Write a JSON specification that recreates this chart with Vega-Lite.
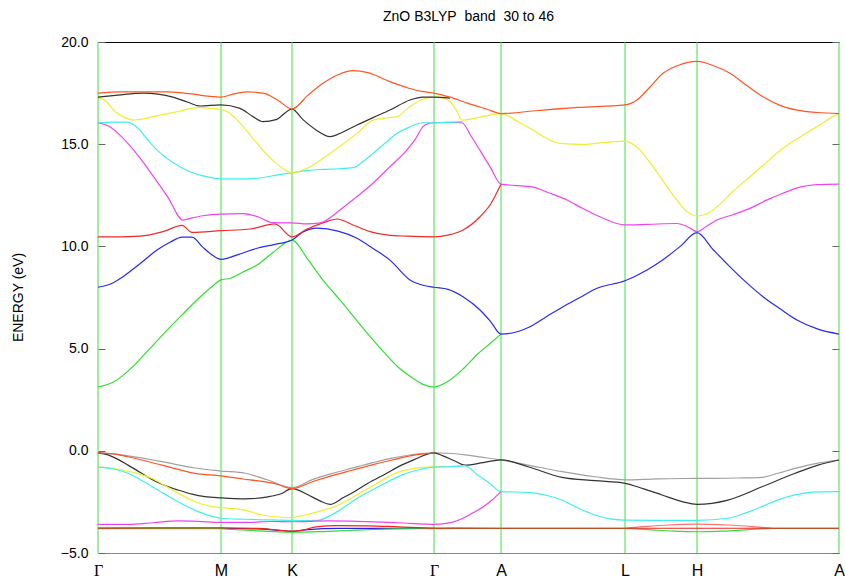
{
  "$schema": "https://vega.github.io/schema/vega-lite/v6.json",
  "autosize": {"type": "none"},
  "padding": {"left": 98, "top": 42, "right": 6, "bottom": 24},
  "width": 741,
  "height": 511,
  "background": "white",
  "title": {"text": "ZnO B3LYP\u00a0 band\u00a0 30 to 46", "font": "Liberation Sans", "fontSize": 14, "fontWeight": "normal", "color": "#000", "offset": 0, "baseline": "alphabetic", "anchor": "middle"},
  "config": {"view": {"stroke": null}, "axis": {"grid": false, "labelFont": "Liberation Sans", "titleFont": "Liberation Sans", "labelColor": "#000", "titleColor": "#000"}},
  "datasets": {
    "kpts": [{"k": 0}, {"k": 123}, {"k": 194}, {"k": 336}, {"k": 403}, {"k": 527}, {"k": 599}, {"k": 741}],
    "val": [
      {"b":"v_gray","k":0,"e":-0.1},{"b":"v_gray","k":15,"e":-0.15},{"b":"v_gray","k":30,"e":-0.25},{"b":"v_gray","k":64,"e":-0.53},{"b":"v_gray","k":97,"e":-0.84},{"b":"v_gray","k":123,"e":-0.99},{"b":"v_gray","k":147,"e":-1.1},{"b":"v_gray","k":170,"e":-1.43},{"b":"v_gray","k":194,"e":-1.8},{"b":"v_gray","k":215,"e":-1.4},{"b":"v_gray","k":235,"e":-1.1},{"b":"v_gray","k":254,"e":-0.85},{"b":"v_gray","k":275,"e":-0.58},{"b":"v_gray","k":294,"e":-0.36},{"b":"v_gray","k":315,"e":-0.18},{"b":"v_gray","k":336,"e":-0.1},{"b":"v_gray","k":350,"e":-0.12},{"b":"v_gray","k":367,"e":-0.2},{"b":"v_gray","k":385,"e":-0.32},{"b":"v_gray","k":403,"e":-0.45},{"b":"v_gray","k":430,"e":-0.7},{"b":"v_gray","k":464,"e":-1.02},{"b":"v_gray","k":497,"e":-1.27},{"b":"v_gray","k":527,"e":-1.42},{"b":"v_gray","k":560,"e":-1.37},{"b":"v_gray","k":599,"e":-1.35},{"b":"v_gray","k":640,"e":-1.33},{"b":"v_gray","k":664,"e":-1.3},{"b":"v_gray","k":680,"e":-1.1},{"b":"v_gray","k":697,"e":-0.86},{"b":"v_gray","k":720,"e":-0.6},{"b":"v_gray","k":741,"e":-0.45},
      {"b":"v_black","k":0,"e":-0.1},{"b":"v_black","k":10,"e":-0.2},{"b":"v_black","k":20,"e":-0.42},{"b":"v_black","k":30,"e":-0.7},{"b":"v_black","k":42,"e":-1.05},{"b":"v_black","k":54,"e":-1.4},{"b":"v_black","k":67,"e":-1.7},{"b":"v_black","k":80,"e":-1.92},{"b":"v_black","k":94,"e":-2.12},{"b":"v_black","k":107,"e":-2.24},{"b":"v_black","k":123,"e":-2.3},{"b":"v_black","k":147,"e":-2.35},{"b":"v_black","k":170,"e":-2.25},{"b":"v_black","k":183,"e":-2.1},{"b":"v_black","k":194,"e":-1.85},{"b":"v_black","k":210,"e":-2.15},{"b":"v_black","k":222,"e":-2.45},{"b":"v_black","k":232,"e":-2.62},{"b":"v_black","k":245,"e":-2.3},{"b":"v_black","k":258,"e":-1.95},{"b":"v_black","k":270,"e":-1.59},{"b":"v_black","k":287,"e":-1.15},{"b":"v_black","k":304,"e":-0.69},{"b":"v_black","k":320,"e":-0.35},{"b":"v_black","k":330,"e":-0.15},{"b":"v_black","k":336,"e":-0.1},{"b":"v_black","k":345,"e":-0.25},{"b":"v_black","k":357,"e":-0.5},{"b":"v_black","k":367,"e":-0.7},{"b":"v_black","k":385,"e":-0.58},{"b":"v_black","k":403,"e":-0.44},{"b":"v_black","k":430,"e":-0.78},{"b":"v_black","k":464,"e":-1.3},{"b":"v_black","k":497,"e":-1.46},{"b":"v_black","k":527,"e":-1.59},{"b":"v_black","k":545,"e":-1.85},{"b":"v_black","k":564,"e":-2.16},{"b":"v_black","k":585,"e":-2.5},{"b":"v_black","k":599,"e":-2.62},{"b":"v_black","k":630,"e":-2.41},{"b":"v_black","k":664,"e":-1.76},{"b":"v_black","k":697,"e":-1.1},{"b":"v_black","k":720,"e":-0.7},{"b":"v_black","k":741,"e":-0.45},
      {"b":"v_orange","k":0,"e":-0.1},{"b":"v_orange","k":15,"e":-0.15},{"b":"v_orange","k":30,"e":-0.29},{"b":"v_orange","k":64,"e":-0.7},{"b":"v_orange","k":97,"e":-1.1},{"b":"v_orange","k":123,"e":-1.23},{"b":"v_orange","k":145,"e":-1.38},{"b":"v_orange","k":164,"e":-1.5},{"b":"v_orange","k":180,"e":-1.65},{"b":"v_orange","k":194,"e":-1.85},{"b":"v_orange","k":215,"e":-1.5},{"b":"v_orange","k":235,"e":-1.2},{"b":"v_orange","k":254,"e":-0.95},{"b":"v_orange","k":275,"e":-0.68},{"b":"v_orange","k":294,"e":-0.45},{"b":"v_orange","k":315,"e":-0.22},{"b":"v_orange","k":336,"e":-0.1},
      {"b":"v_yellow","k":0,"e":-0.8},{"b":"v_yellow","k":15,"e":-0.86},{"b":"v_yellow","k":30,"e":-1.0},{"b":"v_yellow","k":42,"e":-1.15},{"b":"v_yellow","k":54,"e":-1.35},{"b":"v_yellow","k":67,"e":-1.7},{"b":"v_yellow","k":80,"e":-2.07},{"b":"v_yellow","k":97,"e":-2.49},{"b":"v_yellow","k":114,"e":-2.73},{"b":"v_yellow","k":123,"e":-2.78},{"b":"v_yellow","k":147,"e":-2.9},{"b":"v_yellow","k":164,"e":-3.14},{"b":"v_yellow","k":180,"e":-3.24},{"b":"v_yellow","k":194,"e":-3.27},{"b":"v_yellow","k":207,"e":-3.14},{"b":"v_yellow","k":222,"e":-2.95},{"b":"v_yellow","k":237,"e":-2.73},{"b":"v_yellow","k":254,"e":-2.3},{"b":"v_yellow","k":270,"e":-1.84},{"b":"v_yellow","k":284,"e":-1.45},{"b":"v_yellow","k":297,"e":-1.1},{"b":"v_yellow","k":312,"e":-0.9},{"b":"v_yellow","k":327,"e":-0.8},{"b":"v_yellow","k":336,"e":-0.78},{"b":"v_yellow","k":355,"e":-0.76},{"b":"v_yellow","k":367,"e":-0.72},
      {"b":"v_cyan","k":0,"e":-0.8},{"b":"v_cyan","k":15,"e":-0.88},{"b":"v_cyan","k":30,"e":-1.1},{"b":"v_cyan","k":42,"e":-1.4},{"b":"v_cyan","k":54,"e":-1.75},{"b":"v_cyan","k":67,"e":-2.12},{"b":"v_cyan","k":80,"e":-2.49},{"b":"v_cyan","k":97,"e":-2.9},{"b":"v_cyan","k":110,"e":-3.15},{"b":"v_cyan","k":123,"e":-3.3},{"b":"v_cyan","k":147,"e":-3.35},{"b":"v_cyan","k":170,"e":-3.38},{"b":"v_cyan","k":194,"e":-3.4},{"b":"v_cyan","k":205,"e":-3.42},{"b":"v_cyan","k":220,"e":-3.4},{"b":"v_cyan","k":233,"e":-3.15},{"b":"v_cyan","k":247,"e":-2.73},{"b":"v_cyan","k":260,"e":-2.3},{"b":"v_cyan","k":273,"e":-1.95},{"b":"v_cyan","k":287,"e":-1.59},{"b":"v_cyan","k":303,"e":-1.2},{"b":"v_cyan","k":320,"e":-0.94},{"b":"v_cyan","k":336,"e":-0.8},{"b":"v_cyan","k":350,"e":-0.78},{"b":"v_cyan","k":367,"e":-0.74},{"b":"v_cyan","k":380,"e":-1.2},{"b":"v_cyan","k":392,"e":-1.6},{"b":"v_cyan","k":403,"e":-2.0},{"b":"v_cyan","k":430,"e":-2.03},{"b":"v_cyan","k":450,"e":-2.2},{"b":"v_cyan","k":464,"e":-2.41},{"b":"v_cyan","k":480,"e":-2.8},{"b":"v_cyan","k":497,"e":-3.14},{"b":"v_cyan","k":512,"e":-3.33},{"b":"v_cyan","k":527,"e":-3.39},{"b":"v_cyan","k":560,"e":-3.4},{"b":"v_cyan","k":599,"e":-3.4},{"b":"v_cyan","k":630,"e":-3.3},{"b":"v_cyan","k":647,"e":-3.05},{"b":"v_cyan","k":664,"e":-2.73},{"b":"v_cyan","k":680,"e":-2.4},{"b":"v_cyan","k":697,"e":-2.16},{"b":"v_cyan","k":715,"e":-2.02},{"b":"v_cyan","k":741,"e":-2.0},
      {"b":"v_magenta","k":0,"e":-3.6},{"b":"v_magenta","k":30,"e":-3.6},{"b":"v_magenta","k":55,"e":-3.52},{"b":"v_magenta","k":80,"e":-3.43},{"b":"v_magenta","k":100,"e":-3.45},{"b":"v_magenta","k":123,"e":-3.5},{"b":"v_magenta","k":150,"e":-3.5},{"b":"v_magenta","k":175,"e":-3.46},{"b":"v_magenta","k":194,"e":-3.47},{"b":"v_magenta","k":230,"e":-3.43},{"b":"v_magenta","k":260,"e":-3.45},{"b":"v_magenta","k":300,"e":-3.52},{"b":"v_magenta","k":336,"e":-3.6},{"b":"v_magenta","k":354,"e":-3.5},{"b":"v_magenta","k":365,"e":-3.3},{"b":"v_magenta","k":374,"e":-3.06},{"b":"v_magenta","k":385,"e":-2.75},{"b":"v_magenta","k":394,"e":-2.41},{"b":"v_magenta","k":403,"e":-2.0},
      {"b":"v_blue","k":0,"e":-3.8},{"b":"v_blue","k":60,"e":-3.8},{"b":"v_blue","k":123,"e":-3.8},{"b":"v_blue","k":160,"e":-3.82},{"b":"v_blue","k":178,"e":-3.88},{"b":"v_blue","k":194,"e":-3.94},{"b":"v_blue","k":210,"e":-3.86},{"b":"v_blue","k":240,"e":-3.8},{"b":"v_blue","k":290,"e":-3.8},{"b":"v_blue","k":336,"e":-3.8},
      {"b":"v_green","k":0,"e":-3.81},{"b":"v_green","k":123,"e":-3.81},{"b":"v_green","k":135,"e":-3.85},{"b":"v_green","k":155,"e":-3.9},{"b":"v_green","k":175,"e":-3.95},{"b":"v_green","k":200,"e":-3.98},{"b":"v_green","k":225,"e":-3.95},{"b":"v_green","k":250,"e":-3.9},{"b":"v_green","k":275,"e":-3.85},{"b":"v_green","k":300,"e":-3.82},{"b":"v_green","k":336,"e":-3.81},{"b":"v_green","k":355,"e":-3.8},{"b":"v_green","k":527,"e":-3.8},{"b":"v_green","k":550,"e":-3.86},{"b":"v_green","k":575,"e":-3.93},{"b":"v_green","k":599,"e":-3.96},{"b":"v_green","k":625,"e":-3.93},{"b":"v_green","k":650,"e":-3.86},{"b":"v_green","k":674,"e":-3.8},{"b":"v_green","k":741,"e":-3.8},
      {"b":"v_salmon","k":527,"e":-3.79},{"b":"v_salmon","k":545,"e":-3.71},{"b":"v_salmon","k":570,"e":-3.63},{"b":"v_salmon","k":599,"e":-3.59},{"b":"v_salmon","k":630,"e":-3.63},{"b":"v_salmon","k":655,"e":-3.71},{"b":"v_salmon","k":674,"e":-3.79}
    ],
    "valtop": [
      {"b":"v_red","k":0,"e":-3.78},{"b":"v_red","k":60,"e":-3.77},{"b":"v_red","k":123,"e":-3.77},{"b":"v_red","k":160,"e":-3.8},{"b":"v_red","k":180,"e":-3.88},{"b":"v_red","k":194,"e":-3.93},{"b":"v_red","k":205,"e":-3.88},{"b":"v_red","k":218,"e":-3.72},{"b":"v_red","k":240,"e":-3.66},{"b":"v_red","k":270,"e":-3.67},{"b":"v_red","k":300,"e":-3.72},{"b":"v_red","k":336,"e":-3.78},{"b":"v_red","k":403,"e":-3.79},{"b":"v_red","k":527,"e":-3.79},{"b":"v_red","k":741,"e":-3.79}
    ],
    "cond": [
      {"b":"c_green","k":0,"e":3.12},{"b":"c_green","k":15,"e":3.35},{"b":"c_green","k":30,"e":3.9},{"b":"c_green","k":50,"e":4.9},{"b":"c_green","k":70,"e":5.95},{"b":"c_green","k":85,"e":6.7},{"b":"c_green","k":99,"e":7.38},{"b":"c_green","k":112,"e":7.95},{"b":"c_green","k":123,"e":8.36},{"b":"c_green","k":132,"e":8.44},{"b":"c_green","k":145,"e":8.75},{"b":"c_green","k":159,"e":9.09},{"b":"c_green","k":175,"e":9.7},{"b":"c_green","k":194,"e":10.31},{"b":"c_green","k":210,"e":9.35},{"b":"c_green","k":225,"e":8.35},{"b":"c_green","k":242,"e":7.38},{"b":"c_green","k":260,"e":6.3},{"b":"c_green","k":280,"e":5.15},{"b":"c_green","k":300,"e":4.1},{"b":"c_green","k":315,"e":3.55},{"b":"c_green","k":325,"e":3.25},{"b":"c_green","k":336,"e":3.12},{"b":"c_green","k":350,"e":3.4},{"b":"c_green","k":365,"e":4.0},{"b":"c_green","k":380,"e":4.75},{"b":"c_green","k":392,"e":5.25},{"b":"c_green","k":403,"e":5.71},
      {"b":"c_blue","k":0,"e":8.0},{"b":"c_blue","k":12,"e":8.15},{"b":"c_blue","k":25,"e":8.52},{"b":"c_blue","k":42,"e":9.15},{"b":"c_blue","k":59,"e":9.82},{"b":"c_blue","k":72,"e":10.2},{"b":"c_blue","k":84,"e":10.45},{"b":"c_blue","k":94,"e":10.45},{"b":"c_blue","k":105,"e":9.95},{"b":"c_blue","k":115,"e":9.55},{"b":"c_blue","k":123,"e":9.37},{"b":"c_blue","k":140,"e":9.6},{"b":"c_blue","k":159,"e":9.91},{"b":"c_blue","k":177,"e":10.1},{"b":"c_blue","k":194,"e":10.31},{"b":"c_blue","k":205,"e":10.7},{"b":"c_blue","k":219,"e":10.89},{"b":"c_blue","k":240,"e":10.75},{"b":"c_blue","k":259,"e":10.4},{"b":"c_blue","k":275,"e":9.9},{"b":"c_blue","k":292,"e":9.33},{"b":"c_blue","k":312,"e":8.36},{"b":"c_blue","k":325,"e":8.1},{"b":"c_blue","k":336,"e":8.0},{"b":"c_blue","k":350,"e":7.9},{"b":"c_blue","k":365,"e":7.54},{"b":"c_blue","k":382,"e":6.89},{"b":"c_blue","k":393,"e":6.3},{"b":"c_blue","k":403,"e":5.71},{"b":"c_blue","k":432,"e":6.07},{"b":"c_blue","k":448,"e":6.55},{"b":"c_blue","k":465,"e":7.05},{"b":"c_blue","k":482,"e":7.5},{"b":"c_blue","k":499,"e":7.95},{"b":"c_blue","k":527,"e":8.32},{"b":"c_blue","k":549,"e":8.85},{"b":"c_blue","k":565,"e":9.35},{"b":"c_blue","k":582,"e":9.99},{"b":"c_blue","k":599,"e":10.67},{"b":"c_blue","k":615,"e":9.85},{"b":"c_blue","k":632,"e":9.0},{"b":"c_blue","k":648,"e":8.25},{"b":"c_blue","k":665,"e":7.54},{"b":"c_blue","k":682,"e":6.95},{"b":"c_blue","k":699,"e":6.4},{"b":"c_blue","k":720,"e":5.95},{"b":"c_blue","k":741,"e":5.71},
      {"b":"c_red","k":0,"e":10.47},{"b":"c_red","k":20,"e":10.47},{"b":"c_red","k":42,"e":10.5},{"b":"c_red","k":65,"e":10.72},{"b":"c_red","k":84,"e":11.03},{"b":"c_red","k":94,"e":10.69},{"b":"c_red","k":123,"e":10.77},{"b":"c_red","k":152,"e":10.85},{"b":"c_red","k":177,"e":11.1},{"b":"c_red","k":194,"e":10.47},{"b":"c_red","k":209,"e":10.85},{"b":"c_red","k":225,"e":11.15},{"b":"c_red","k":239,"e":11.34},{"b":"c_red","k":255,"e":11.05},{"b":"c_red","k":272,"e":10.72},{"b":"c_red","k":290,"e":10.55},{"b":"c_red","k":309,"e":10.5},{"b":"c_red","k":336,"e":10.47},{"b":"c_red","k":350,"e":10.55},{"b":"c_red","k":365,"e":10.8},{"b":"c_red","k":382,"e":11.45},{"b":"c_red","k":393,"e":12.1},{"b":"c_red","k":403,"e":13.05},
      {"b":"c_magenta","k":0,"e":16.05},{"b":"c_magenta","k":10,"e":15.9},{"b":"c_magenta","k":25,"e":15.3},{"b":"c_magenta","k":40,"e":14.45},{"b":"c_magenta","k":55,"e":13.45},{"b":"c_magenta","k":70,"e":12.4},{"b":"c_magenta","k":85,"e":11.29},{"b":"c_magenta","k":92,"e":11.37},{"b":"c_magenta","k":105,"e":11.5},{"b":"c_magenta","k":123,"e":11.58},{"b":"c_magenta","k":145,"e":11.6},{"b":"c_magenta","k":160,"e":11.45},{"b":"c_magenta","k":175,"e":11.16},{"b":"c_magenta","k":194,"e":11.15},{"b":"c_magenta","k":209,"e":11.1},{"b":"c_magenta","k":222,"e":11.15},{"b":"c_magenta","k":242,"e":11.78},{"b":"c_magenta","k":258,"e":12.4},{"b":"c_magenta","k":275,"e":13.09},{"b":"c_magenta","k":292,"e":13.9},{"b":"c_magenta","k":309,"e":14.72},{"b":"c_magenta","k":318,"e":15.3},{"b":"c_magenta","k":325,"e":15.86},{"b":"c_magenta","k":330,"e":16.0},{"b":"c_magenta","k":336,"e":16.05},{"b":"c_magenta","k":350,"e":16.07},{"b":"c_magenta","k":364,"e":16.05},{"b":"c_magenta","k":373,"e":15.4},{"b":"c_magenta","k":382,"e":14.7},{"b":"c_magenta","k":392,"e":13.9},{"b":"c_magenta","k":403,"e":13.05},{"b":"c_magenta","k":435,"e":12.9},{"b":"c_magenta","k":452,"e":12.6},{"b":"c_magenta","k":469,"e":12.27},{"b":"c_magenta","k":485,"e":11.85},{"b":"c_magenta","k":502,"e":11.45},{"b":"c_magenta","k":527,"e":11.05},{"b":"c_magenta","k":550,"e":11.08},{"b":"c_magenta","k":579,"e":11.12},{"b":"c_magenta","k":590,"e":10.95},{"b":"c_magenta","k":599,"e":10.72},{"b":"c_magenta","k":609,"e":11.0},{"b":"c_magenta","k":619,"e":11.29},{"b":"c_magenta","k":635,"e":11.55},{"b":"c_magenta","k":652,"e":11.86},{"b":"c_magenta","k":668,"e":12.25},{"b":"c_magenta","k":685,"e":12.6},{"b":"c_magenta","k":702,"e":12.9},{"b":"c_magenta","k":719,"e":13.02},{"b":"c_magenta","k":741,"e":13.05},
      {"b":"c_cyan","k":0,"e":16.05},{"b":"c_cyan","k":15,"e":16.08},{"b":"c_cyan","k":29,"e":16.08},{"b":"c_cyan","k":39,"e":15.83},{"b":"c_cyan","k":50,"e":15.2},{"b":"c_cyan","k":59,"e":14.72},{"b":"c_cyan","k":75,"e":14.1},{"b":"c_cyan","k":92,"e":13.65},{"b":"c_cyan","k":105,"e":13.45},{"b":"c_cyan","k":123,"e":13.3},{"b":"c_cyan","k":140,"e":13.3},{"b":"c_cyan","k":159,"e":13.33},{"b":"c_cyan","k":180,"e":13.5},{"b":"c_cyan","k":194,"e":13.6},{"b":"c_cyan","k":210,"e":13.72},{"b":"c_cyan","k":225,"e":13.77},{"b":"c_cyan","k":240,"e":13.8},{"b":"c_cyan","k":255,"e":13.85},{"b":"c_cyan","k":265,"e":14.15},{"b":"c_cyan","k":275,"e":14.55},{"b":"c_cyan","k":287,"e":15.05},{"b":"c_cyan","k":299,"e":15.53},{"b":"c_cyan","k":312,"e":15.85},{"b":"c_cyan","k":325,"e":16.05},{"b":"c_cyan","k":336,"e":16.05},{"b":"c_cyan","k":350,"e":16.07},{"b":"c_cyan","k":364,"e":16.1},
      {"b":"c_yellow","k":0,"e":17.3},{"b":"c_yellow","k":8,"e":17.1},{"b":"c_yellow","k":17,"e":16.6},{"b":"c_yellow","k":27,"e":16.3},{"b":"c_yellow","k":35,"e":16.18},{"b":"c_yellow","k":60,"e":16.4},{"b":"c_yellow","k":80,"e":16.6},{"b":"c_yellow","k":100,"e":16.79},{"b":"c_yellow","k":123,"e":16.7},{"b":"c_yellow","k":132,"e":16.5},{"b":"c_yellow","k":142,"e":16.04},{"b":"c_yellow","k":153,"e":15.4},{"b":"c_yellow","k":165,"e":14.7},{"b":"c_yellow","k":180,"e":14.0},{"b":"c_yellow","k":194,"e":13.6},{"b":"c_yellow","k":210,"e":13.85},{"b":"c_yellow","k":232,"e":14.55},{"b":"c_yellow","k":259,"e":15.53},{"b":"c_yellow","k":275,"e":16.18},{"b":"c_yellow","k":290,"e":16.3},{"b":"c_yellow","k":299,"e":16.35},{"b":"c_yellow","k":312,"e":16.84},{"b":"c_yellow","k":325,"e":17.2},{"b":"c_yellow","k":336,"e":17.3},{"b":"c_yellow","k":345,"e":17.25},{"b":"c_yellow","k":352,"e":17.08},{"b":"c_yellow","k":358,"e":16.7},{"b":"c_yellow","k":364,"e":16.18},{"b":"c_yellow","k":380,"e":16.3},{"b":"c_yellow","k":403,"e":16.5},{"b":"c_yellow","k":420,"e":16.1},{"b":"c_yellow","k":435,"e":15.69},{"b":"c_yellow","k":448,"e":15.3},{"b":"c_yellow","k":462,"e":15.04},{"b":"c_yellow","k":485,"e":14.99},{"b":"c_yellow","k":510,"e":15.1},{"b":"c_yellow","k":527,"e":15.15},{"b":"c_yellow","k":542,"e":14.71},{"b":"c_yellow","k":555,"e":13.9},{"b":"c_yellow","k":569,"e":12.92},{"b":"c_yellow","k":580,"e":12.2},{"b":"c_yellow","k":589,"e":11.7},{"b":"c_yellow","k":599,"e":11.49},{"b":"c_yellow","k":609,"e":11.6},{"b":"c_yellow","k":619,"e":11.94},{"b":"c_yellow","k":635,"e":12.7},{"b":"c_yellow","k":652,"e":13.41},{"b":"c_yellow","k":668,"e":14.1},{"b":"c_yellow","k":685,"e":14.8},{"b":"c_yellow","k":702,"e":15.35},{"b":"c_yellow","k":719,"e":15.86},{"b":"c_yellow","k":735,"e":16.35},{"b":"c_yellow","k":741,"e":16.5},
      {"b":"c_black","k":0,"e":17.3},{"b":"c_black","k":20,"e":17.4},{"b":"c_black","k":45,"e":17.5},{"b":"c_black","k":60,"e":17.45},{"b":"c_black","k":75,"e":17.3},{"b":"c_black","k":90,"e":17.05},{"b":"c_black","k":102,"e":16.87},{"b":"c_black","k":123,"e":16.92},{"b":"c_black","k":142,"e":16.75},{"b":"c_black","k":155,"e":16.35},{"b":"c_black","k":165,"e":16.1},{"b":"c_black","k":178,"e":16.2},{"b":"c_black","k":194,"e":16.72},{"b":"c_black","k":205,"e":16.2},{"b":"c_black","k":218,"e":15.7},{"b":"c_black","k":232,"e":15.37},{"b":"c_black","k":245,"e":15.6},{"b":"c_black","k":259,"e":15.94},{"b":"c_black","k":275,"e":16.3},{"b":"c_black","k":292,"e":16.67},{"b":"c_black","k":312,"e":17.16},{"b":"c_black","k":325,"e":17.3},{"b":"c_black","k":336,"e":17.3},{"b":"c_black","k":352,"e":17.25},
      {"b":"c_orange","k":0,"e":17.5},{"b":"c_orange","k":23,"e":17.56},{"b":"c_orange","k":70,"e":17.56},{"b":"c_orange","k":95,"e":17.45},{"b":"c_orange","k":110,"e":17.35},{"b":"c_orange","k":123,"e":17.3},{"b":"c_orange","k":135,"e":17.45},{"b":"c_orange","k":149,"e":17.56},{"b":"c_orange","k":165,"e":17.5},{"b":"c_orange","k":180,"e":17.15},{"b":"c_orange","k":194,"e":16.72},{"b":"c_orange","k":210,"e":17.4},{"b":"c_orange","k":225,"e":17.98},{"b":"c_orange","k":240,"e":18.4},{"b":"c_orange","k":255,"e":18.6},{"b":"c_orange","k":270,"e":18.5},{"b":"c_orange","k":292,"e":18.06},{"b":"c_orange","k":310,"e":17.75},{"b":"c_orange","k":325,"e":17.57},{"b":"c_orange","k":336,"e":17.5},{"b":"c_orange","k":352,"e":17.3},{"b":"c_orange","k":370,"e":17.0},{"b":"c_orange","k":390,"e":16.7},{"b":"c_orange","k":403,"e":16.5},{"b":"c_orange","k":440,"e":16.65},{"b":"c_orange","k":480,"e":16.8},{"b":"c_orange","k":527,"e":16.92},{"b":"c_orange","k":539,"e":17.16},{"b":"c_orange","k":552,"e":17.8},{"b":"c_orange","k":565,"e":18.47},{"b":"c_orange","k":580,"e":18.85},{"b":"c_orange","k":599,"e":19.05},{"b":"c_orange","k":615,"e":18.85},{"b":"c_orange","k":632,"e":18.47},{"b":"c_orange","k":648,"e":17.9},{"b":"c_orange","k":665,"e":17.32},{"b":"c_orange","k":682,"e":16.9},{"b":"c_orange","k":699,"e":16.67},{"b":"c_orange","k":720,"e":16.55},{"b":"c_orange","k":741,"e":16.5}
    ]
  },
  "layer": [
    {
      "data": {"name": "kpts"},
      "mark": {"type": "rule", "color": "#44dd44", "strokeWidth": 1},
      "encoding": {
        "x": {"field": "k", "type": "quantitative", "scale": {"domain": [0, 741], "nice": false, "zero": false},
          "axis": {"orient": "bottom", "values": [0, 123, 194, 336, 403, 527, 599, 741], "title": null, "ticks": false, "domainColor": "#888888", "domainWidth": 1,
            "labelExpr": "datum.value == 0 || datum.value == 336 ? 'Γ' : datum.value == 123 ? 'M' : datum.value == 194 ? 'K' : datum.value == 527 ? 'L' : datum.value == 599 ? 'H' : 'A'",
            "labelFontSize": 16, "labelFont": {"condition": {"test": "datum.value == 0 || datum.value == 336", "value": "Liberation Serif"}, "value": "Liberation Sans"},
            "labelPadding": 9, "labelOverlap": false, "labelBound": false, "labelFlush": false, "labelAlign": "center", "labelBaseline": "top"}}
      }
    },
    {
      "data": {"name": "val"},
      "mark": {"type": "line", "strokeWidth": 1.2, "interpolate": "monotone"},
      "encoding": {
        "x": {"field": "k", "type": "quantitative", "scale": {"domain": [0, 741], "nice": false, "zero": false},
          "axis": {"orient": "top", "labels": false, "ticks": false, "title": null, "domainColor": "#000000", "domainWidth": 1, "minExtent": 0, "maxExtent": 0}},
        "y": {"field": "e", "type": "quantitative", "scale": {"domain": [-5, 20], "nice": false, "zero": false},
          "axis": {"orient": "left", "values": [-5, 0, 5, 10, 15, 20], "format": ".1f", "domain": false, "tickSize": -7, "tickColor": "#666666", "labelPadding": 17, "labelFontSize": 14,
            "title": "ENERGY (eV)", "titleFontSize": 14, "titleFontWeight": "normal", "titleAngle": 270, "titleX": -80, "titleY": 255, "titleAlign": "center", "titleBaseline": "middle"}},
        "color": {"field": "b", "type": "nominal", "legend": null,
          "scale": {"domain": ["v_gray","v_black","v_orange","v_yellow","v_cyan","v_magenta","v_blue","v_green","v_salmon","v_red","c_green","c_blue","c_red","c_magenta","c_cyan","c_yellow","c_black","c_orange"],
                    "range": ["#a0a0a0","#333333","#ff5522","#eeee30","#40eeee","#ee44ee","#2222ee","#33dd33","#ff7070","#ee2222","#33dd33","#2a2aee","#ee2a2a","#ee44ee","#40eeee","#eeee30","#333333","#ff5522"]}}
      }
    },
    {
      "data": {"name": "valtop"},
      "mark": {"type": "line", "strokeWidth": 1.2, "interpolate": "monotone"},
      "encoding": {
        "x": {"field": "k", "type": "quantitative", "axis": null},
        "y": {"field": "e", "type": "quantitative", "axis": null},
        "color": {"field": "b", "type": "nominal", "legend": null}
      }
    },
    {
      "data": {"name": "cond"},
      "mark": {"type": "line", "strokeWidth": 1.2, "interpolate": "monotone"},
      "encoding": {
        "x": {"field": "k", "type": "quantitative", "axis": null},
        "y": {"field": "e", "type": "quantitative",
          "axis": {"orient": "right", "values": [-5, 0, 5, 10, 15, 20], "labels": false, "domain": false, "tickSize": -7, "tickColor": "#666666", "title": null}},
        "color": {"field": "b", "type": "nominal", "legend": null}
      }
    }
  ],
  "resolve": {"axis": {"x": "independent", "y": "independent"}}
}
